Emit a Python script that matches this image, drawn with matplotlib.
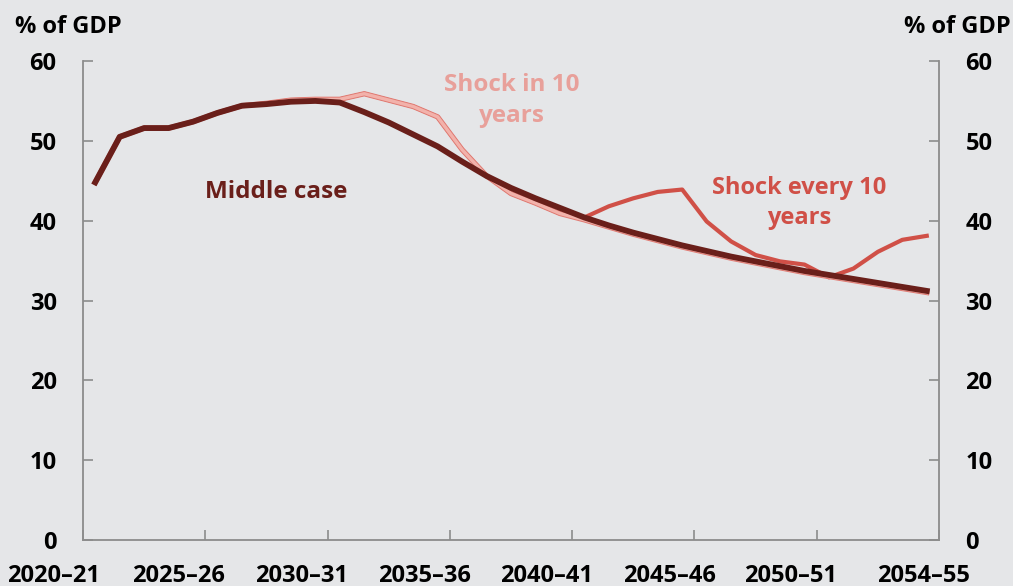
import matplotlib.pyplot as plt
import matplotlib.patheffects as pe
import matplotlib.transforms as mtransforms
import numpy as np

# data, one value per financial year 2020-21 ... 2054-55
years = [f"{y}\u2013{str(y + 1)[2:]}" for y in range(2020, 2055)]
middle_case = [44.8, 50.5, 51.6, 51.6, 52.4, 53.5, 54.4, 54.6, 54.9, 55.0,
               54.8, 53.6, 52.3, 50.8, 49.3, 47.4, 45.6, 44.1, 42.8, 41.6,
               40.4, 39.4, 38.5, 37.7, 36.9, 36.2, 35.5, 34.9, 34.3, 33.7,
               33.2, 32.7, 32.2, 31.7, 31.2]
shock_in_10 = [44.8, 50.5, 51.6, 51.6, 52.4, 53.5, 54.4, 54.7, 55.1, 55.2,
               55.2, 55.9, 55.1, 54.3, 53.0, 48.9, 45.6, 43.4, 42.2, 40.9,
               40.1, 39.2, 38.3, 37.5, 36.7, 36.0, 35.3, 34.7, 34.1, 33.5,
               33.0, 32.5, 32.0, 31.5, 31.0]
shock_every_10 = [44.8, 50.5, 51.6, 51.6, 52.4, 53.5, 54.4, 54.7, 55.1, 55.2,
                  55.2, 55.9, 55.1, 54.3, 53.0, 48.9, 45.6, 43.4, 42.2, 40.9,
                  40.4, 41.8, 42.8, 43.6, 43.9, 39.9, 37.4, 35.7, 34.9, 34.5,
                  32.9, 34.0, 36.1, 37.6, 38.1]
tick_years = ["2020\u201321", "2025\u201326", "2030\u201331", "2035\u201336",
              "2040\u201341", "2045\u201346", "2050\u201351", "2054\u201355"]
y_ticks = [0, 10, 20, 30, 40, 50, 60]

plt.rcParams['font.family'] = ['Open Sans', 'DejaVu Sans']
plt.rcParams['font.weight'] = 'bold'

bg = '#E5E6E8'
dark = '#6A1F1A'
red = '#D05047'
pink = '#F2B2AB'
grey = '#8C8C8C'

fig = plt.figure(figsize=(10.13, 5.86), dpi=100, facecolor=bg)
ax = fig.add_axes([83 / 1013, 46 / 586, 856 / 1013, 479 / 586])
ax.set_facecolor(bg)

x = np.arange(len(years))
ax.plot(x, shock_every_10, color=red, lw=3.0, zorder=2)
ax.plot(x, shock_in_10, color=pink, lw=2.4, zorder=3,
        path_effects=[pe.Stroke(linewidth=3.8, foreground='#E07A72'), pe.Normal()])
ax.plot(x, middle_case, color=dark, lw=4.2, zorder=4)

# tick marks between categories
ax.set_xticks(np.arange(-0.5, len(years), 5))
ax.set_xticklabels([])
ax.tick_params(axis='x', direction='in', length=7, width=1.2, color=grey)
ax.set_xlim(-0.5, len(years) - 0.5)
ax.set_ylim(0, 60)

# year labels sit left of the tick marks, as in the source
label_pos = [-1.7, 3.42, 8.42, 13.45, 18.47, 23.46, 28.45, 33.88]
lab_tr = mtransforms.offset_copy(ax.get_xaxis_transform(), fig=fig, y=-17, units='points')
for pos, lab in zip(label_pos, tick_years):
    ax.text(pos, 0, lab, transform=lab_tr, ha='center', va='top',
            fontsize=17, fontweight='bold', clip_on=False)

ax.set_yticks(y_ticks)
ax.set_yticklabels([str(v) for v in y_ticks], fontsize=17, fontweight='bold')
ax.tick_params(axis='y', direction='in', length=7, width=1.2, color=grey,
               left=True, right=True, labelleft=True, labelright=True, pad=19)

for s in ['left', 'right', 'bottom']:
    ax.spines[s].set_color(grey)
    ax.spines[s].set_linewidth(1.3)
ax.spines['top'].set_visible(False)

fig.text(68 / 1013, 1 - 27 / 586, '% of GDP', ha='center', va='center',
         fontsize=17, fontweight='bold')
fig.text(957 / 1013, 1 - 27 / 586, '% of GDP', ha='center', va='center',
         fontsize=17, fontweight='bold')

ax.text(7.39, 43.6, 'Middle case', color=dark, ha='center', va='center',
        fontsize=17.5, fontweight='bold')
ax.text(17.04, 55.1, 'Shock in 10\nyears', color='#E8A09A', ha='center', va='center',
        fontsize=17.5, fontweight='bold', linespacing=1.4)
ax.text(28.77, 42.2, 'Shock every 10\nyears', color=red, ha='center', va='center',
        fontsize=17, fontweight='bold', linespacing=1.35)

fig.savefig('out.png', dpi=100, facecolor=bg)
